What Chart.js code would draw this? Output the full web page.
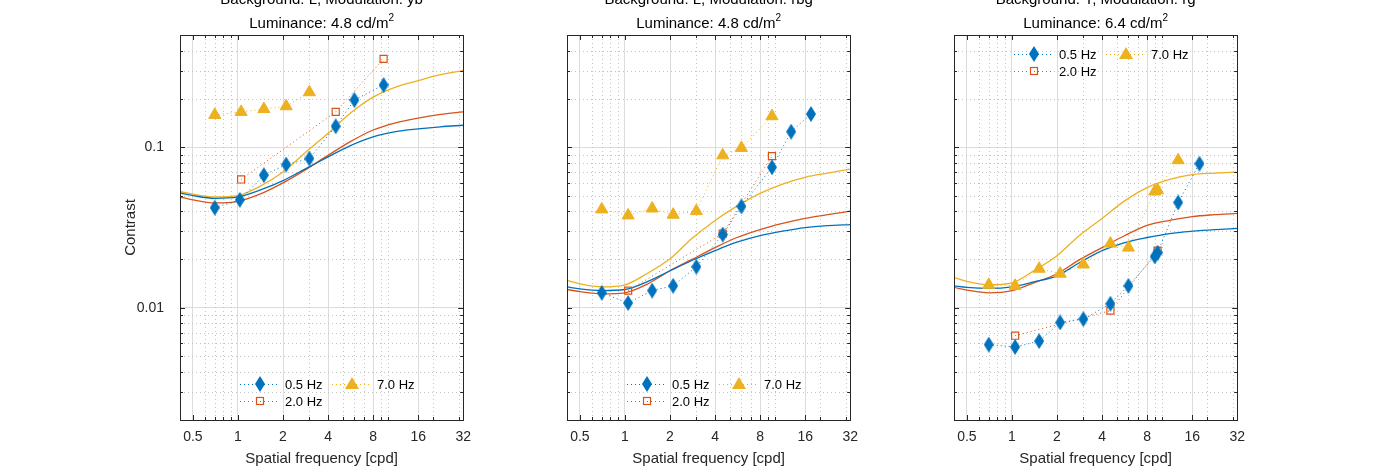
<!DOCTYPE html>
<html>
<head>
<meta charset="utf-8">
<script src="https://cdn.jsdelivr.net/npm/chart.js@4"></script>
<style>
  body { margin: 0; background: #fff; }
  #wrap { position: relative; width: 1378px; height: 472px; overflow: hidden; }
  .panel { position: absolute; top: 0; width: 362px; height: 472px; }
</style>
</head>
<body>
<div id="wrap">
  <div class="panel" style="left:118px"><canvas id="c1"></canvas></div>
  <div class="panel" style="left:505px"><canvas id="c2"></canvas></div>
  <div class="panel" style="left:892px"><canvas id="c3"></canvas></div>
</div>
<script>
// tick labels
const xTicks = [0.5, 1, 2, 4, 8, 16, 32];
const xMinor = [0.6, 0.7, 0.8, 0.9, 3, 5, 6, 7, 9, 10, 20, 30];
const yTicks = [0.01, 0.1];
const yMinor = [0.002, 0.003, 0.004, 0.005, 0.006, 0.007, 0.008, 0.009,
                0.02, 0.03, 0.04, 0.05, 0.06, 0.07, 0.08, 0.09, 0.2, 0.3, 0.4, 0.5];
const seriesNames = ['0.5 Hz', '2.0 Hz', '7.0 Hz'];

// fitted curves, sampled frequencies
const fitF = [0.41, 0.5, 0.7, 1, 1.4, 2, 2.8, 4, 5.6, 8, 11.3, 16, 22.6, 32];

// panel 1: Background L, yb
const p1F05 = [0.70, 1.03, 1.49, 2.1, 3.0, 4.5, 6.0, 9.4];
const p1C05 = [0.042, 0.047, 0.067, 0.078, 0.085, 0.135, 0.197, 0.244];
const p1F20 = [1.05, 4.5, 9.4];
const p1C20 = [0.063, 0.166, 0.355];
const p1F70 = [0.70, 1.05, 1.49, 2.1, 3.0];
const p1C70 = [0.159, 0.166, 0.173, 0.180, 0.220];
const p1Fit05 = [0.052, 0.050, 0.048, 0.049, 0.054, 0.062, 0.073, 0.087, 0.102, 0.116, 0.125, 0.130, 0.134, 0.137];
const p1Fit20 = [0.049, 0.047, 0.045, 0.046, 0.051, 0.060, 0.072, 0.089, 0.108, 0.128, 0.142, 0.152, 0.160, 0.166];
const p1Fit70 = [0.053, 0.051, 0.049, 0.050, 0.057, 0.070, 0.092, 0.122, 0.162, 0.205, 0.237, 0.260, 0.283, 0.300];

// panel 2: Background L, rbg
const p2F05 = [0.70, 1.05, 1.52, 2.1, 3.0, 4.5, 6.0, 9.6, 12.9, 17.5];
const p2C05 = [0.0124, 0.0107, 0.0128, 0.0137, 0.018, 0.0286, 0.0428, 0.075, 0.125, 0.161];
const p2F20 = [1.05, 4.5, 9.6];
const p2C20 = [0.0128, 0.029, 0.088];
const p2F70 = [0.70, 1.05, 1.52, 2.1, 3.0, 4.5, 6.0, 9.6];
const p2C70 = [0.041, 0.0376, 0.0415, 0.038, 0.040, 0.089, 0.099, 0.156];
const p2Fit05 = [0.0135, 0.0131, 0.0128, 0.0130, 0.0145, 0.017, 0.0197, 0.0227, 0.0256, 0.0281, 0.030, 0.0316, 0.0325, 0.033];
const p2Fit20 = [0.0130, 0.0126, 0.0122, 0.0124, 0.014, 0.017, 0.020, 0.0237, 0.0274, 0.0307, 0.0335, 0.036, 0.038, 0.040];
const p2Fit70 = [0.0148, 0.0141, 0.0135, 0.0139, 0.0163, 0.0202, 0.027, 0.035, 0.043, 0.0516, 0.059, 0.065, 0.069, 0.073];

// panel 3: Background Y, rg
const p3F05 = [0.70, 1.05, 1.52, 2.1, 3.0, 4.55, 6.0, 9.0, 9.4, 12.9, 17.9];
const p3C05 = [0.0059, 0.0057, 0.0062, 0.0081, 0.0085, 0.0106, 0.0137, 0.0209, 0.022, 0.0453, 0.079];
const p3F20 = [1.05, 4.55, 9.4];
const p3C20 = [0.0067, 0.0096, 0.0227];
const p3F70 = [0.70, 1.05, 1.52, 2.1, 3.0, 4.55, 6.0, 9.0, 9.4, 12.9];
const p3C70 = [0.0139, 0.0137, 0.0175, 0.0163, 0.0186, 0.0251, 0.0237, 0.053, 0.054, 0.083];
const p3Fit05 = [0.0137, 0.0134, 0.0132, 0.0135, 0.0145, 0.0158, 0.019, 0.0227, 0.0254, 0.0274, 0.029, 0.030, 0.0307, 0.0312];
const p3Fit20 = [0.0134, 0.0129, 0.0124, 0.0128, 0.0143, 0.0163, 0.0198, 0.0237, 0.028, 0.0326, 0.035, 0.037, 0.038, 0.0387];
const p3Fit70 = [0.0154, 0.0146, 0.0139, 0.0143, 0.017, 0.0211, 0.028, 0.036, 0.046, 0.056, 0.063, 0.0675, 0.069, 0.070];

const BLUE = '#0072BD', ORANGE = '#D95319', YELLOW = '#EDB120';
const FONT = '"Liberation Sans", Arial, sans-serif';

function makeDiamond() {
    const c = document.createElement('canvas');
    c.width = 10; c.height = 16;
    const g = c.getContext('2d');
    g.fillStyle = BLUE;
    g.beginPath();
    g.moveTo(5, 0); g.lineTo(10, 8); g.lineTo(5, 16); g.lineTo(0, 8);
    g.closePath(); g.fill();
    return c;
}
const diamond = makeDiamond();

function pts(xs, ys) {
    return xs.map((x, i) => ({ x, y: ys[i] }));
}

function markerSet(label, xs, ys, color, style) {
    const d = {
        label, data: pts(xs, ys), borderColor: color, borderWidth: 1,
        borderDash: [1, 3], pointBorderColor: color, order: 1
    };
    if (style === 'diamond') {
        d.pointStyle = diamond;
    } else if (style === 'square') {
        d.pointStyle = 'rect'; d.pointRadius = 5; d.pointBackgroundColor = 'rgba(0,0,0,0)';
        d.pointBorderWidth = 1.2;
    } else {
        d.pointStyle = 'triangle'; d.pointRadius = 7; d.pointBackgroundColor = color;
        d.pointBorderWidth = 1;
    }
    return d;
}

function fitSet(ys, color) {
    return {
        label: '', data: pts(fitF, ys), borderColor: color, borderWidth: 1.3,
        pointRadius: 0, cubicInterpolationMode: 'monotone', order: 2
    };
}

const panelPlugin = {
    id: 'matlabLook',
    beforeDatasetsDraw(chart) {
        const { ctx, chartArea: a, scales: { x, y } } = chart;
        ctx.save();
        ctx.strokeStyle = '#c4c4c4';
        ctx.lineWidth = 1;
        ctx.setLineDash([1, 3]);
        xMinor.forEach(v => {
            const px = Math.round(x.getPixelForValue(v)) + 0.5;
            ctx.beginPath(); ctx.moveTo(px, a.top); ctx.lineTo(px, a.bottom); ctx.stroke();
        });
        yMinor.forEach(v => {
            const py = Math.round(y.getPixelForValue(v)) + 0.5;
            ctx.beginPath(); ctx.moveTo(a.left, py); ctx.lineTo(a.right, py); ctx.stroke();
        });
        ctx.restore();
    },
    afterDatasetsDraw(chart) {
        const { ctx, chartArea: a, scales: { x, y } } = chart;
        ctx.save();
        ctx.strokeStyle = '#262626';
        ctx.lineWidth = 1;
        ctx.beginPath();
        xTicks.forEach(v => {
            const px = Math.round(x.getPixelForValue(v)) + 0.5;
            ctx.moveTo(px, a.bottom); ctx.lineTo(px, a.bottom - 5);
            ctx.moveTo(px, a.top); ctx.lineTo(px, a.top + 5);
        });
        xMinor.forEach(v => {
            const px = Math.round(x.getPixelForValue(v)) + 0.5;
            ctx.moveTo(px, a.bottom); ctx.lineTo(px, a.bottom - 3);
            ctx.moveTo(px, a.top); ctx.lineTo(px, a.top + 3);
        });
        yTicks.forEach(v => {
            const py = Math.round(y.getPixelForValue(v)) + 0.5;
            ctx.moveTo(a.left, py); ctx.lineTo(a.left + 5, py);
            ctx.moveTo(a.right, py); ctx.lineTo(a.right - 5, py);
        });
        yMinor.forEach(v => {
            const py = Math.round(y.getPixelForValue(v)) + 0.5;
            ctx.moveTo(a.left, py); ctx.lineTo(a.left + 3, py);
            ctx.moveTo(a.right, py); ctx.lineTo(a.right - 3, py);
        });
        ctx.stroke();
        ctx.strokeRect(Math.round(a.left) + 0.5, Math.round(a.top) + 0.5,
            Math.round(a.right - a.left), Math.round(a.bottom - a.top));
        ctx.restore();
    },
    afterDraw(chart) {
        const { ctx, chartArea: a } = chart;
        const o = chart.options.plugins.matlabLook;
        ctx.save();
        // titles
        ctx.fillStyle = '#000';
        ctx.textAlign = 'center';
        ctx.textBaseline = 'alphabetic';
        ctx.font = '15px ' + FONT;
        const cx = (a.left + a.right) / 2;
        ctx.fillText(o.title1, cx, 4);
        const t2 = o.title2;
        const w2 = ctx.measureText(t2).width;
        ctx.font = '10px ' + FONT;
        const ws = ctx.measureText('2').width;
        ctx.font = '15px ' + FONT;
        ctx.textAlign = 'left';
        const sx = cx - (w2 + ws) / 2;
        ctx.fillText(t2, sx, 28);
        ctx.font = '10px ' + FONT;
        ctx.fillText('2', sx + w2, 21);
        // legend
        const entries = [
            { name: seriesNames[0], color: BLUE, m: 'diamond', dx: 80, row: 0 },
            { name: seriesNames[2], color: YELLOW, m: 'triangle', dx: 172, row: 0 },
            { name: seriesNames[1], color: ORANGE, m: 'square', dx: 80, row: 1 }
        ];
        ctx.font = '13px ' + FONT;
        ctx.textBaseline = 'middle';
        entries.forEach(e => {
            const mx = a.left + e.dx, my = o.legendY + e.row * 17;
            ctx.strokeStyle = e.color; ctx.lineWidth = 1;
            ctx.setLineDash([1, 3]);
            ctx.beginPath(); ctx.moveTo(mx - 20, my + 0.5); ctx.lineTo(mx + 20, my + 0.5); ctx.stroke();
            ctx.setLineDash([]);
            if (e.m === 'diamond') {
                ctx.drawImage(diamond, mx - 5, my - 8);
            } else if (e.m === 'square') {
                ctx.lineWidth = 1.2;
                ctx.strokeRect(mx - 3.5, my - 3.5, 7, 7);
            } else {
                ctx.fillStyle = e.color;
                ctx.beginPath(); ctx.moveTo(mx, my - 7); ctx.lineTo(mx + 7, my + 5); ctx.lineTo(mx - 7, my + 5);
                ctx.closePath(); ctx.fill();
            }
            ctx.fillStyle = '#000';
            ctx.fillText(e.name, mx + 25, my + 1);
        });
        ctx.restore();
    }
};

function activatePanel(canvasId, title1, title2, legendY, showY, sets) {
    const [f05, c05, f20, c20, f70, c70, fit05, fit20, fit70] = sets;
    const datasets = [
        markerSet(seriesNames[0], f05, c05, BLUE, 'diamond'),
        markerSet(seriesNames[1], f20, c20, ORANGE, 'square'),
        markerSet(seriesNames[2], f70, c70, YELLOW, 'triangle'),
        fitSet(fit05, BLUE),
        fitSet(fit20, ORANGE),
        fitSet(fit70, YELLOW)
    ];
    const config = {
        type: 'line',
        data: { datasets },
        options: {
            responsive: true,
            maintainAspectRatio: false,
            animation: false,
            layout: { padding: { top: 35, right: 7, left: 0, bottom: 0 } },
            scales: {
                x: {
                    type: 'logarithmic', min: 0.41, max: 32,
                    afterBuildTicks: s => { s.ticks = xTicks.map(v => ({ value: v })); },
                    afterFit: s => { s.height = 52; },
                    ticks: { callback: v => String(v), color: '#262626', font: { family: FONT, size: 14 }, padding: 9, maxRotation: 0, autoSkip: false },
                    grid: { color: '#dcdcdc', drawTicks: false },
                    border: { display: false },
                    title: { display: true, text: 'Spatial frequency [cpd]', color: '#262626', font: { family: FONT, size: 15 }, padding: { top: 1 } }
                },
                y: {
                    type: 'logarithmic', min: 0.002, max: 0.5,
                    afterBuildTicks: s => { s.ticks = yTicks.map(v => ({ value: v })); },
                    afterFit: s => { s.width = 62; },
                    ticks: { display: showY, callback: v => String(v), color: '#262626', font: { family: FONT, size: 14 }, padding: 16 },
                    grid: { color: '#dcdcdc', drawTicks: false },
                    border: { display: false },
                    title: { display: showY, text: 'Contrast', color: '#262626', font: { family: FONT, size: 15 }, padding: { bottom: 0 } }
                }
            },
            plugins: {
                legend: { display: false },
                tooltip: { enabled: false },
                matlabLook: { title1, title2, legendY }
            }
        },
        plugins: [panelPlugin]
    };
    return new Chart(document.getElementById(canvasId), config);
}

activatePanel('c1', 'Background: L, Modulation: yb', 'Luminance: 4.8 cd/m', 384, true,
    [p1F05, p1C05, p1F20, p1C20, p1F70, p1C70, p1Fit05, p1Fit20, p1Fit70]);
activatePanel('c2', 'Background: L, Modulation: rbg', 'Luminance: 4.8 cd/m', 384, false,
    [p2F05, p2C05, p2F20, p2C20, p2F70, p2C70, p2Fit05, p2Fit20, p2Fit70]);
activatePanel('c3', 'Background: Y, Modulation: rg', 'Luminance: 6.4 cd/m', 54, false,
    [p3F05, p3C05, p3F20, p3C20, p3F70, p3C70, p3Fit05, p3Fit20, p3Fit70]);
</script>
</body>
</html>
